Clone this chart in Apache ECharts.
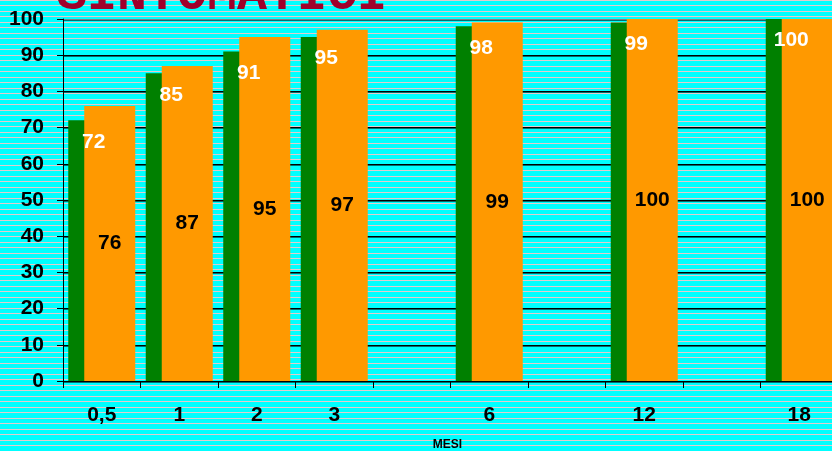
<!DOCTYPE html>
<html>
<head>
<meta charset="utf-8">
<script src="https://cdn.jsdelivr.net/npm/echarts@6/dist/echarts.min.js"></script>
<style>
html,body{margin:0;padding:0;width:832px;height:451px;overflow:hidden;}
body{background:#00ffff repeating-linear-gradient(to bottom,#e2cccc 0px,#e2cccc 1px,#00ffff 1px,#00ffff 5px,#e2cccc 5px,#e2cccc 6px,#00ffff 6px,#00ffff 11px);}
#c{width:832px;height:451px;}
</style>
</head>
<body>
<div id="c"></div>
<script>
const categories = ['0,5', '1', '2', '3', '', '6', '', '12', '', '18'];
const greenValues = [72, 85, 91, 95, '-', 98, '-', 99, '-', 100];
const orangeValues = [76, 87, 95, 97, '-', 99, '-', 100, '-', 100];
const yTicks = { min: 0, max: 100, interval: 10 };
const titleText = 'SINTOMATICI';
const axisName = 'MESI';

const FONT = 'Liberation Sans, Arial, sans-serif';
const chart = echarts.init(document.getElementById('c'), null, { renderer: 'canvas' });
const gridColors = [];
for (let i = 0; i < 10; i++) gridColors.push('#000000');
gridColors.push('#808080');

const labelFont = { fontFamily: FONT, fontWeight: 'bold', fontSize: 21 };

chart.setOption({
  backgroundColor: 'transparent',
  animation: false,
  title: {
    text: titleText,
    left: 52,
    top: -34,
    textStyle: { fontFamily: 'Liberation Mono, Courier New, monospace', fontWeight: 'bold', fontSize: 50, color: '#a0002a' }
  },
  grid: { left: 63, top: 19, height: 362, width: 775, containLabel: false, outerBoundsMode: 'none' },
  xAxis: [{
    type: 'category',
    data: categories,
    axisLine: { lineStyle: { color: '#000', width: 1 } },
    axisTick: { show: true, length: 7, lineStyle: { color: '#000' } },
    axisLabel: Object.assign({ interval: 0, margin: 24, color: '#000' }, labelFont),
    name: axisName,
    nameLocation: 'middle',
    nameGap: 58,
    nameTextStyle: { color: '#000', fontFamily: FONT, fontWeight: 'bold', fontSize: 12, padding: [0, 6, 0, 0] }
  }, {
    type: 'category',
    data: categories,
    position: 'bottom',
    show: false
  }],
  yAxis: {
    type: 'value',
    min: yTicks.min,
    max: yTicks.max,
    interval: yTicks.interval,
    axisLine: { show: true, lineStyle: { color: '#000', width: 1 } },
    axisTick: { show: true, length: 6, lineStyle: { color: '#000' } },
    axisLabel: Object.assign({ margin: 19, color: '#000' }, labelFont),
    splitLine: { show: true, lineStyle: { color: gridColors, width: 1, shadowColor: '#007070', shadowOffsetY: 1, shadowBlur: 0 } }
  },
  series: [
    {
      type: 'bar',
      xAxisIndex: 0,
      data: greenValues,
      barWidth: 51,
      barGap: '-68.6%',
      itemStyle: { color: '#008000' },
      z: 2
    },
    {
      type: 'bar',
      xAxisIndex: 0,
      data: orangeValues,
      barWidth: 51,
      itemStyle: { color: '#ff9900' },
      label: Object.assign({ show: true, position: 'inside', color: '#000' }, labelFont),
      z: 3
    },
    {
      type: 'bar',
      xAxisIndex: 1,
      data: greenValues,
      barWidth: 51,
      barGap: '-68.6%',
      itemStyle: { color: 'rgba(0,0,0,0)' },
      label: Object.assign({ show: true, position: 'insideTop', distance: 11, color: '#fff' }, labelFont),
      silent: true,
      z: 5
    },
    {
      type: 'bar',
      xAxisIndex: 1,
      data: orangeValues,
      barWidth: 51,
      itemStyle: { color: 'rgba(0,0,0,0)' },
      silent: true,
      z: 5
    }
  ]
});
</script>
</body>
</html>
